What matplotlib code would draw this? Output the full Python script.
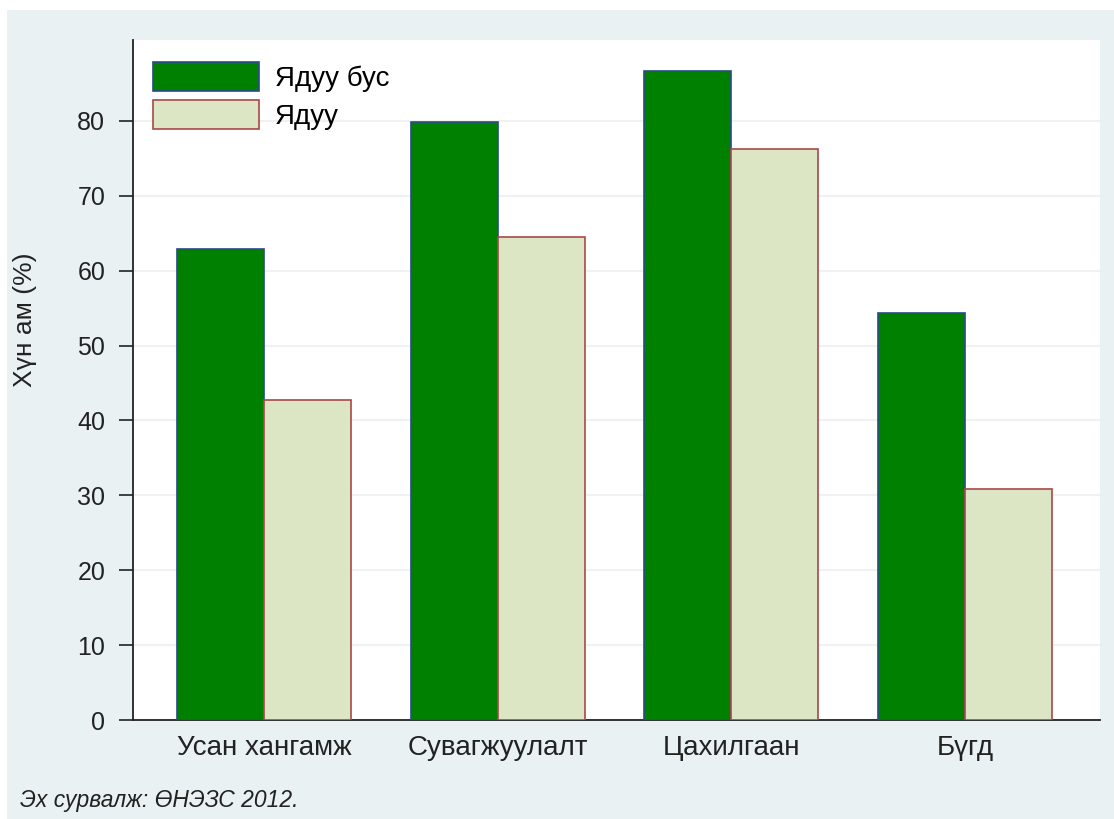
import matplotlib
matplotlib.use("Agg")
import matplotlib.pyplot as plt
import numpy as np
from matplotlib.patches import Rectangle

categories = ["Усан хангамж", "Сувагжуулалт", "Цахилгаан", "Бүгд"]
not_poor = [62.9, 79.8, 86.6, 54.3]
poor = [42.7, 64.5, 76.2, 30.8]
series_names = ["Ядуу бус", "Ядуу"]
yticks = [0, 10, 20, 30, 40, 50, 60, 70, 80]

plt.rcParams['font.family'] = ['Liberation Sans', 'DejaVu Sans']

fig = plt.figure(figsize=(11.14, 8.19), dpi=100)
fig.patch.set_facecolor("white")
# light panel behind everything
fig.patches.append(Rectangle((7 / 1114, 0), 1 - 7 / 1114, (819 - 10) / 819,
                             transform=fig.transFigure, facecolor="#eaf1f3",
                             edgecolor="none", zorder=-10))

ax = fig.add_axes([133 / 1114, (819 - 720) / 819, (1100 - 133) / 1114, (720 - 40) / 819])
ax.set_facecolor("white")

x = np.arange(len(categories))
w = 0.372
ax.bar(x - w / 2, not_poor, w, color="#008000", edgecolor="#2a4a8a", linewidth=1.2,
       label=series_names[0], zorder=3)
ax.bar(x + w / 2, poor, w, color="#dce6c4", edgecolor="#a84848", linewidth=1.2,
       label=series_names[1], zorder=3)

ax.set_xlim(-0.56, 3.577)
ax.set_ylim(0, 90.8)
ax.set_yticks(yticks)
ax.set_xticks(x)
ax.set_xticklabels(categories, fontsize=20)
ax.tick_params(axis="x", length=0, pad=11, colors="#222222")
ax.tick_params(axis="y", labelsize=18, length=10, width=1.2, pad=10, colors="#222222")
ax.grid(axis="y", color="#eef2f4", linewidth=1.5, zorder=0)

for s in ["top", "right"]:
    ax.spines[s].set_visible(False)
ax.spines["left"].set_color("#222222")
ax.spines["left"].set_linewidth(1.3)
ax.spines["bottom"].set_color("#222222")
ax.spines["bottom"].set_linewidth(1.3)

ax.set_ylabel("Хүн ам (%)", fontsize=19, color="#222222")
ax.yaxis.set_label_coords(-0.099, 0.588)

ax.legend(loc="upper left", bbox_to_anchor=(0.0207, 0.968), frameon=False, fontsize=20,
          borderpad=0, borderaxespad=0,
          handlelength=3.8, handleheight=1.22, handletextpad=0.6, labelspacing=0.3)

fig.text(20 / 1114, 1 - 800 / 819, "Эх сурвалж: ӨНЭЗС 2012.", fontsize=16.5,
         style="italic", va="center", ha="left", color="#222222")

fig.savefig("out.png", dpi=100)
